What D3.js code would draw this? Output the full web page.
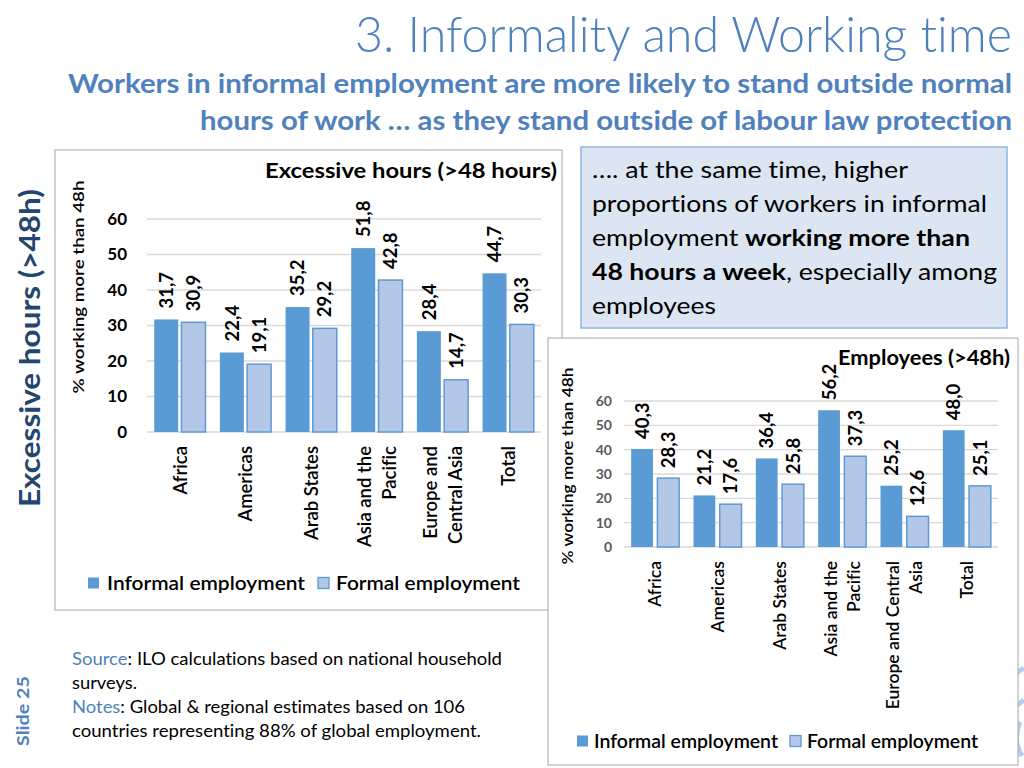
<!DOCTYPE html>
<html>
<head>
<meta charset="utf-8">
<script src="https://cdn.jsdelivr.net/npm/d3@7"></script>
<style>
  html, body { margin: 0; padding: 0; background: #fff; }
  svg { display: block; font-family: "Lato", "Open Sans", sans-serif; font-variant-ligatures: none; }
</style>
</head>
<body>
<div id="slide"></div>
<script>
// data
var regions = ["Africa", "Americas", "Arab States", "Asia and the Pacific", "Europe and Central Asia", "Total"];
var regionLines1 = [["Africa"], ["Americas"], ["Arab States"], ["Asia and the", "Pacific"], ["Europe and", "Central Asia"], ["Total"]];
var regionLines2 = [["Africa"], ["Americas"], ["Arab States"], ["Asia and the", "Pacific"], ["Europe and Central", "Asia"], ["Total"]];
var seriesNames = ["Informal employment", "Formal employment"];
var allInformal = [31.7, 22.4, 35.2, 51.8, 28.4, 44.7];
var allFormal = [30.9, 19.1, 29.2, 42.8, 14.7, 30.3];
var empInformal = [40.3, 21.2, 36.4, 56.2, 25.2, 48.0];
var empFormal = [28.3, 17.6, 25.8, 37.3, 12.6, 25.1];
var yTicks = [0, 10, 20, 30, 40, 50, 60];

var blue = "#5b9bd5", light = "#b4c7e7", accent = "#4f81bd";
var fmt = function (v) { return d3.format(".1f")(v).replace(".", ","); };

var svg = d3.select("#slide").append("svg")
    .attr("width", 1024)
    .attr("height", 768);

// header
svg.append("text")
    .attr("x", 1012).attr("y", 52)
    .attr("text-anchor", "end")
    .attr("textLength", 657).attr("lengthAdjust", "spacingAndGlyphs")
    .style("font-size", "49px").style("font-weight", 300)
    .style("fill", accent)
    .text("3. Informality and Working time");

var sub = [
    {t: "Workers in informal employment are more likely to stand outside normal", y: 93, w: 944},
    {t: "hours of work \u2026 as they stand outside of labour law protection", y: 130, w: 812}
];
sub.forEach(function (s) {
    svg.append("text")
        .attr("x", 1012).attr("y", s.y)
        .attr("text-anchor", "end")
        .attr("textLength", s.w).attr("lengthAdjust", "spacingAndGlyphs")
        .style("font-size", "27px").style("font-weight", 700)
        .style("fill", accent)
        .text(s.t);
});

// side labels
svg.append("text")
    .attr("transform", "translate(40,348) rotate(-90)")
    .attr("text-anchor", "middle")
    .attr("textLength", 318).attr("lengthAdjust", "spacingAndGlyphs")
    .style("font-size", "28px").style("font-weight", 700)
    .style("fill", "#23466f")
    .text("Excessive hours (>48h)");
svg.append("text")
    .attr("transform", "translate(29,711) rotate(-90)")
    .attr("text-anchor", "middle")
    .attr("textLength", 70).attr("lengthAdjust", "spacingAndGlyphs")
    .style("font-size", "17px").style("font-weight", 700)
    .style("fill", accent)
    .text("Slide 25");

// decoration at right edge
svg.append("path")
    .attr("d", "M1012,676 L1024,668 M1013,708 L1024,700 M1020,722 Q1012,740 1022,756")
    .style("fill", "none").style("stroke", "#9bb5ef").style("stroke-width", 5)
    .style("opacity", 0.7);

function drawChart(cfg) {
    var g = svg.append("g");
    g.append("rect")
        .attr("x", cfg.box[0]).attr("y", cfg.box[1])
        .attr("width", cfg.box[2]).attr("height", cfg.box[3])
        .style("fill", "#fff").style("stroke", "#a6a6a6");

    var x = d3.scaleBand().domain(regions)
        .range([cfg.x0, cfg.x1])
        .paddingInner(cfg.padIn).paddingOuter(cfg.padIn / 2);
    var xs = d3.scaleBand().domain(seriesNames)
        .range([0, x.bandwidth()]).paddingInner(cfg.barGap);
    var y = d3.scaleLinear().domain([0, 60]).range([cfg.y0, cfg.y1]);

    // grid
    g.append("g").selectAll("line").data(yTicks).join("line")
        .attr("x1", cfg.x0).attr("x2", cfg.x1)
        .attr("y1", function (d) { return y(d); })
        .attr("y2", function (d) { return y(d); })
        .style("stroke", "#d9d9d9").style("stroke-width", 1.3);

    var yAxis = g.append("g")
        .attr("transform", "translate(" + cfg.x0 + ",0)")
        .call(d3.axisLeft(y).tickValues(yTicks).tickSize(0).tickPadding(cfg.tickPad));
    yAxis.select(".domain").remove();
    yAxis.selectAll("text")
        .style("font-family", "Lato, sans-serif")
        .style("font-size", cfg.tickFont).style("font-weight", 700)
        .style("fill", cfg.tickColor);

    var rows = regions.map(function (r, i) {
        return [
            {r: r, s: seriesNames[0], v: cfg.informal[i]},
            {r: r, s: seriesNames[1], v: cfg.formal[i]}
        ];
    });
    var flat = d3.merge(rows);

    g.append("g").selectAll("rect").data(flat).join("rect")
        .attr("x", function (d) { return x(d.r) + xs(d.s); })
        .attr("width", xs.bandwidth())
        .attr("y", function (d) { return y(d.v); })
        .attr("height", function (d) { return cfg.y0 - y(d.v); })
        .style("fill", function (d) { return d.s === seriesNames[0] ? blue : light; })
        .style("stroke", function (d) { return d.s === seriesNames[0] ? "none" : blue; })
        .style("stroke-width", 1.5);

    g.append("g").selectAll("text").data(flat).join("text")
        .attr("transform", function (d) {
            return "translate(" + (x(d.r) + xs(d.s) + xs.bandwidth() / 2) + "," + (y(d.v) - cfg.lblGap) + ") rotate(-90)";
        })
        .attr("dy", "0.36em")
        .style("font-size", cfg.lblFont).style("font-weight", 700)
        .style("fill", "#000")
        .text(function (d) { return fmt(d.v); });

    // category labels, rotated
    g.append("g").selectAll("g").data(regions).join("g")
        .each(function (r, i) {
            var lines = cfg.lines[i];
            var cx = x(r) + x.bandwidth() / 2;
            d3.select(this).selectAll("text").data(lines).join("text")
                .attr("transform", function (l, j) {
                    var off = (j - (lines.length - 1) / 2) * cfg.catGap;
                    return "translate(" + (cx + off) + "," + cfg.catY + ") rotate(-90)";
                })
                .attr("text-anchor", "end")
                .attr("dy", "0.36em")
                .style("font-size", cfg.catFont).style("font-weight", 600)
                .style("fill", "#000")
                .text(function (l) { return l; });
        });

    // axis title
    g.append("text")
        .attr("transform", "translate(" + cfg.ytX + "," + cfg.ytY + ") rotate(-90)")
        .attr("text-anchor", "middle")
        .attr("dy", "0.36em")
        .attr("textLength", cfg.ytW).attr("lengthAdjust", "spacingAndGlyphs")
        .style("font-size", cfg.ytFont).style("font-weight", 600)
        .text("% working more than 48h");

    // chart title
    g.append("text")
        .attr("x", cfg.title.x).attr("y", cfg.title.y)
        .attr("text-anchor", "end")
        .attr("textLength", cfg.title.w).attr("lengthAdjust", "spacingAndGlyphs")
        .style("font-size", "21px").style("font-weight", 700)
        .text(cfg.title.t);

    // legend
    cfg.legend.forEach(function (L, i) {
        g.append("rect")
            .attr("x", L.sx).attr("y", cfg.legY - 5.5)
            .attr("width", 11).attr("height", 11)
            .style("fill", i === 0 ? blue : light)
            .style("stroke", i === 0 ? "none" : blue).style("stroke-width", 1.3);
        g.append("text")
            .attr("x", L.tx).attr("y", cfg.legY)
            .attr("dy", "0.36em")
            .attr("textLength", L.w).attr("lengthAdjust", "spacingAndGlyphs")
            .style("font-size", "20px").style("font-weight", 600)
            .text(seriesNames[i]);
    });
}

drawChart({
    box: [55, 150, 507, 460],
    x0: 147, x1: 541, y0: 432, y1: 219,
    padIn: 0.22, barGap: 0.12,
    informal: allInformal, formal: allFormal,
    lines: regionLines1,
    tickFont: "17px", tickColor: "#000", tickPad: 20,
    lblFont: "18.5px", lblGap: 11,
    catY: 446, catGap: 25, catFont: "18.5px",
    ytX: 78, ytY: 287, ytW: 213, ytFont: "16px",
    title: {t: "Excessive hours (>48 hours)", x: 557, y: 178, w: 292},
    legY: 583,
    legend: [{sx: 88, tx: 107, w: 198}, {sx: 318, tx: 336, w: 184}]
});

// text box
var box = svg.append("g");
box.append("rect")
    .attr("x", 581).attr("y", 147).attr("width", 426).attr("height", 181)
    .style("fill", "#dce6f2").style("stroke", "#8eb4e3").style("stroke-width", 1.5);
var boxLines = [
    {y: 178, w: 316, parts: [["\u2026. at the same time, higher", 400]]},
    {y: 212, w: 395, parts: [["proportions of workers in informal", 400]]},
    {y: 246, w: 378, parts: [["employment ", 400], ["working more than", 700]]},
    {y: 280, w: 405, parts: [["48 hours a week", 700], [", especially among", 400]]},
    {y: 314, w: 124, parts: [["employees", 400]]}
];
boxLines.forEach(function (L) {
    var t = box.append("text")
        .attr("x", 592).attr("y", L.y)
        .attr("textLength", L.w).attr("lengthAdjust", "spacingAndGlyphs")
        .style("font-size", "23px").style("fill", "#000");
    t.selectAll("tspan").data(L.parts).join("tspan")
        .style("font-weight", function (p) { return p[1]; })
        .text(function (p) { return p[0]; });
});

drawChart({
    box: [548, 338, 470, 427],
    x0: 624, x1: 998, y0: 547, y1: 401,
    padIn: 0.23, barGap: 0.17,
    informal: empInformal, formal: empFormal,
    lines: regionLines2,
    tickFont: "14px", tickColor: "#595959", tickPad: 12,
    lblFont: "18.5px", lblGap: 10,
    catY: 561, catGap: 23, catFont: "17.5px",
    ytX: 567, ytY: 466, ytW: 197, ytFont: "16px",
    title: {t: "Employees (>48h)", x: 1010, y: 365, w: 172},
    legY: 741,
    legend: [{sx: 577, tx: 594, w: 184}, {sx: 790, tx: 807, w: 171}]
});

// source notes
var notes = [
    {y: 665, w: 430, parts: [["Source", accent], [": ILO calculations based on national household", "#000"]]},
    {y: 689, w: 65, parts: [["surveys.", "#000"]]},
    {y: 713, w: 393, parts: [["Notes", accent], [": Global & regional estimates based on 106", "#000"]]},
    {y: 737, w: 409, parts: [["countries representing 88% of global employment.", "#000"]]}
];
notes.forEach(function (L) {
    var t = svg.append("text")
        .attr("x", 72).attr("y", L.y)
        .attr("textLength", L.w).attr("lengthAdjust", "spacingAndGlyphs")
        .style("font-size", "17px");
    t.selectAll("tspan").data(L.parts).join("tspan")
        .style("fill", function (p) { return p[1]; })
        .text(function (p) { return p[0]; });
});
</script>
</body>
</html>
